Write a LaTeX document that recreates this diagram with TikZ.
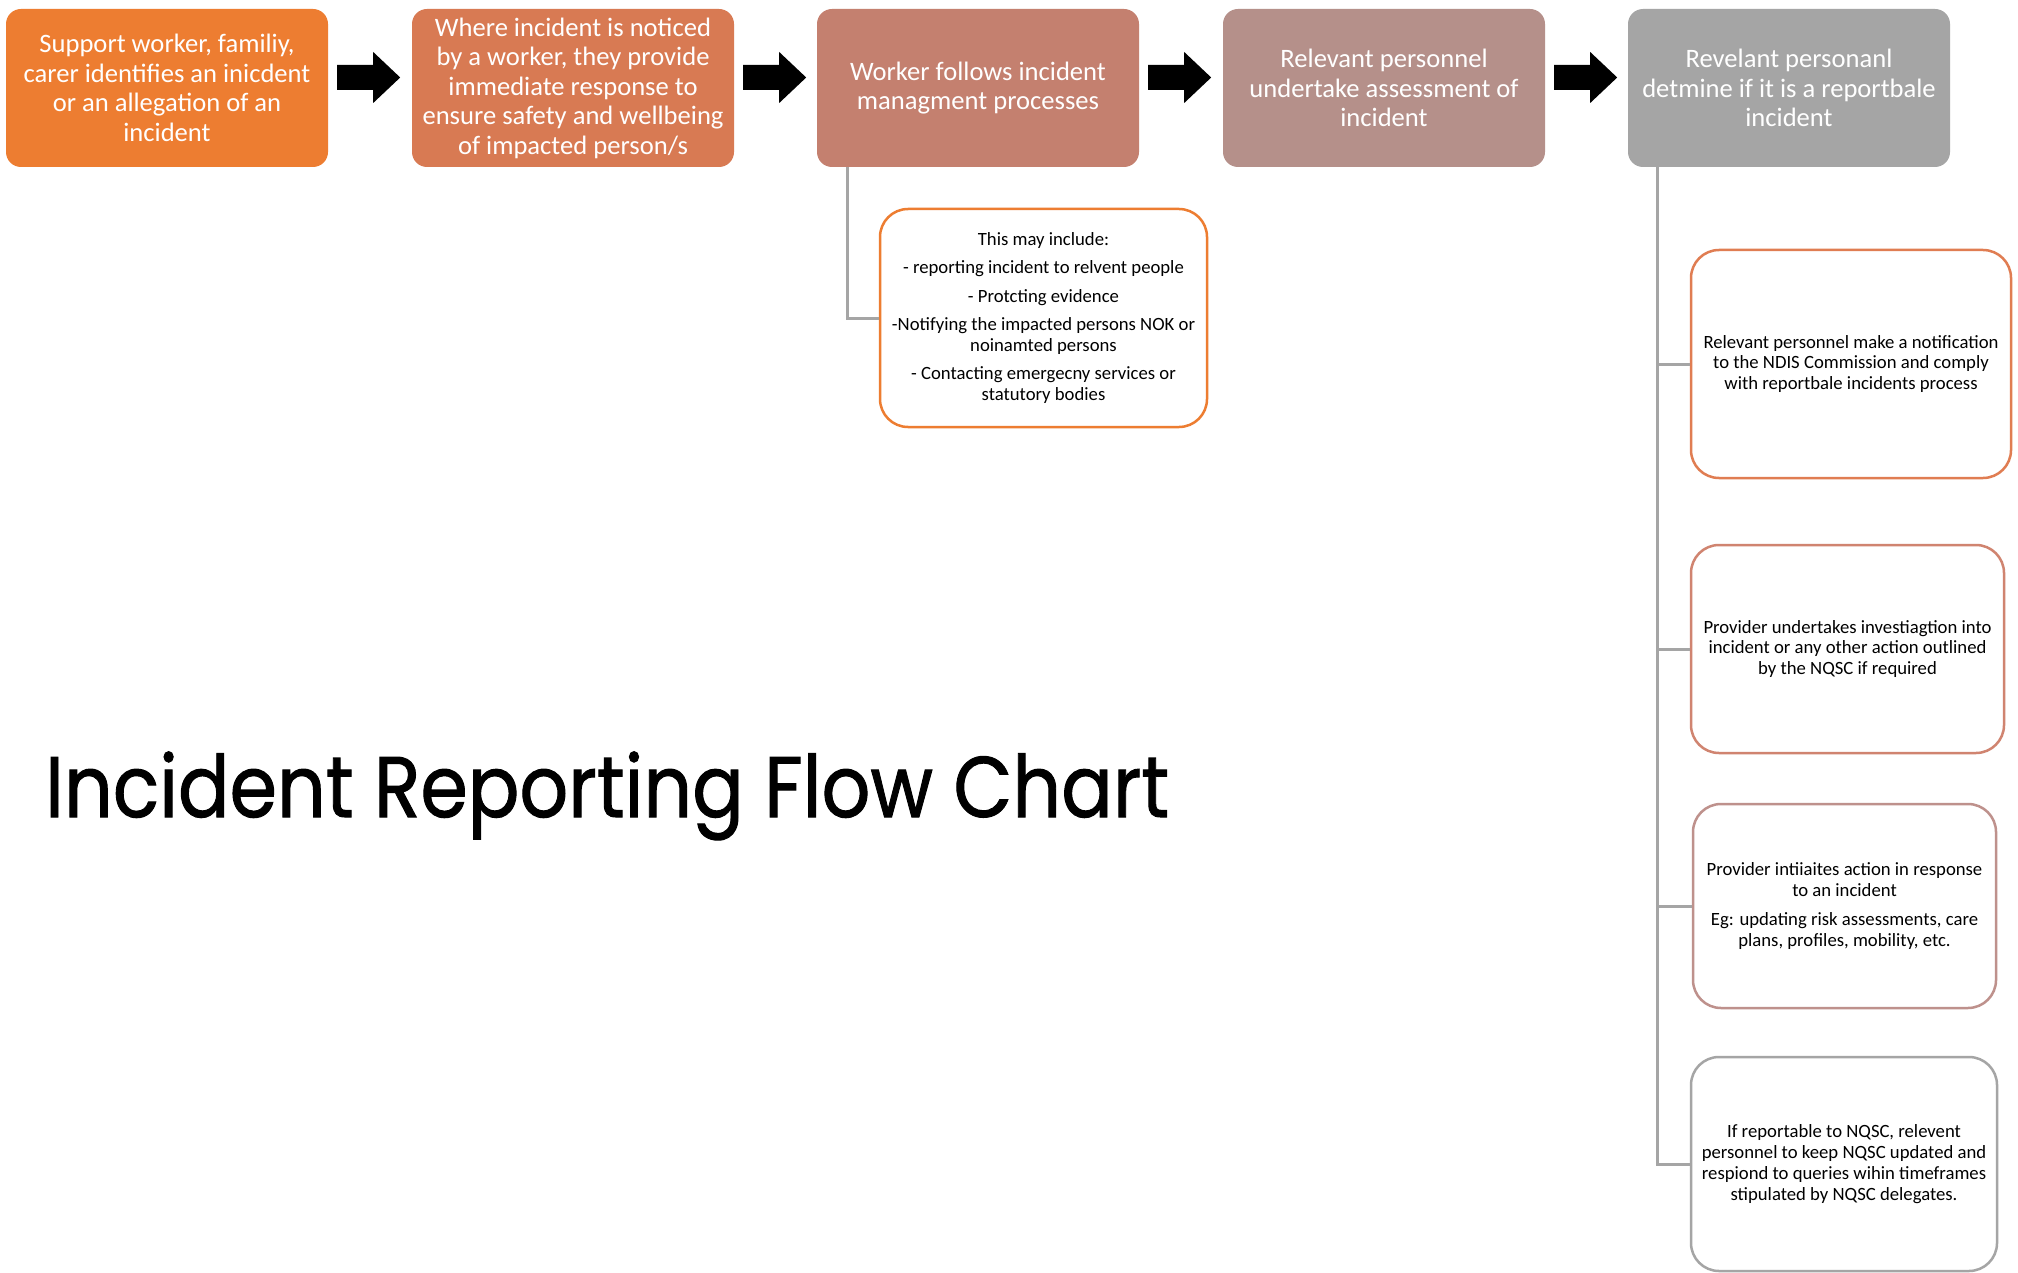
\documentclass[tikz,border=0pt]{standalone}
\usepackage{fontspec}
\setmainfont{Carlito}
\newfontfamily\titlefont[FakeBold=1.2]{Poppins}
\usetikzlibrary{calc}
\definecolor{cone}{HTML}{ED7D31}
\definecolor{ctwo}{HTML}{D87A53}
\definecolor{cthree}{HTML}{C4806F}
\definecolor{cfour}{HTML}{B5908A}
\definecolor{cfive}{HTML}{A5A5A5}
\definecolor{bordA}{HTML}{E07D52}
\definecolor{bordB}{HTML}{D08470}
\definecolor{bordC}{HTML}{BE918C}
\definecolor{conncol}{HTML}{A5A5A5}
\newcommand\blockarrow[1]{\fill[black] ($(#1.east)+(9,-10.5)$) ++(0,-12.5) -- ++(36,0) -- ++(0,-13) -- ++(27,25.5) -- ++(-27,25.5) -- ++(0,-13) -- ++(-36,0) -- cycle;}
\begin{document}
\begin{tikzpicture}[x=1pt,y=-1pt,
  topbox/.style={rectangle, rounded corners=15pt, minimum width=322pt, minimum height=158pt, inner sep=0pt, align=center, text=white, font=\fontsize{26.6}{29.5}\selectfont},
  subbox/.style={rectangle, draw, line width=2.5pt, fill=white, rounded corners=28pt, inner sep=0pt, align=center, text=black, font=\fontsize{18.7}{20.8}\selectfont},
  conn/.style={draw=conncol, line width=3pt}]
\useasboundingbox (0,0) rectangle (2018,1273);
\fill[white] (0,0) rectangle (2018,1273);

% top row
\node[topbox, fill=cone] (b1) at (167,88) {Support worker, familiy,\\carer identifies an inicdent\\or an allegation of an\\incident};
\node[topbox, fill=ctwo] (b2) at (573,88) {Where incident is noticed\\by a worker, they provide\\immediate response to\\ensure safety and wellbeing\\of impacted person/s};
\node[topbox, fill=cthree] (b3) at (978,88) {Worker follows incident\\managment processes};
\node[topbox, fill=cfour] (b4) at (1384,88) {Relevant personnel\\undertake assessment of\\incident};
\node[topbox, fill=cfive] (b5) at (1789,88) {Revelant personanl\\detmine if it is a reportbale\\incident};

\blockarrow{b1}
\blockarrow{b2}
\blockarrow{b3}
\blockarrow{b4}

% sub box under step 3
\node[subbox, draw=cone, minimum width=327pt, minimum height=218pt] (s3) at (1043.5,318)
  {This may include:\\[7.7pt]- reporting incident to relvent people\\[7.7pt]- Protcting evidence\\[7.7pt]-Notifying the impacted persons NOK or\\noinamted persons\\[7.7pt]- Contacting emergecny services or\\statutory bodies};

% right column
\node[subbox, draw=bordA, minimum width=320pt, minimum height=228pt] (rA) at (1851,364)
  {Relevant personnel make a notification\\to the NDIS Commission and comply\\with reportbale incidents process};
\node[subbox, draw=bordB, minimum width=313pt, minimum height=208pt] (rB) at (1847.5,649)
  {Provider undertakes investiagtion into\\incident or any other action outlined\\by the NQSC if required};
\node[subbox, draw=bordC, minimum width=303pt, minimum height=204pt] (rC) at (1844.5,906)
  {Provider intiiaites action in response\\to an incident\\[7.7pt]Eg: updating risk assessments, care\\plans, profiles, mobility, etc.};
\node[subbox, draw=cfive, minimum width=306pt, minimum height=214pt] (rD) at (1844,1164)
  {If reportable to NQSC, relevent\\personnel to keep NQSC updated and\\respiond to queries wihin timeframes\\stipulated by NQSC delegates.};

% connectors
\draw[conn] ($(b3.south west)+(31,0)$) |- (s3.west);
\draw[conn] ($(b5.south west)+(30,0)$) |- (rA.west);
\draw[conn] ($(b5.south west)+(30,0)$) |- (rB.west);
\draw[conn] ($(b5.south west)+(30,0)$) |- (rC.west);
\draw[conn] ($(b5.south west)+(30,0)$) |- (rD.west);

% title
\node[anchor=base west, inner sep=0pt, font=\titlefont\fontsize{86}{100}\selectfont] (title) at (45,817) {\scalebox{0.888}[1]{Incident Reporting Flow Chart}};
\end{tikzpicture}
\end{document}
